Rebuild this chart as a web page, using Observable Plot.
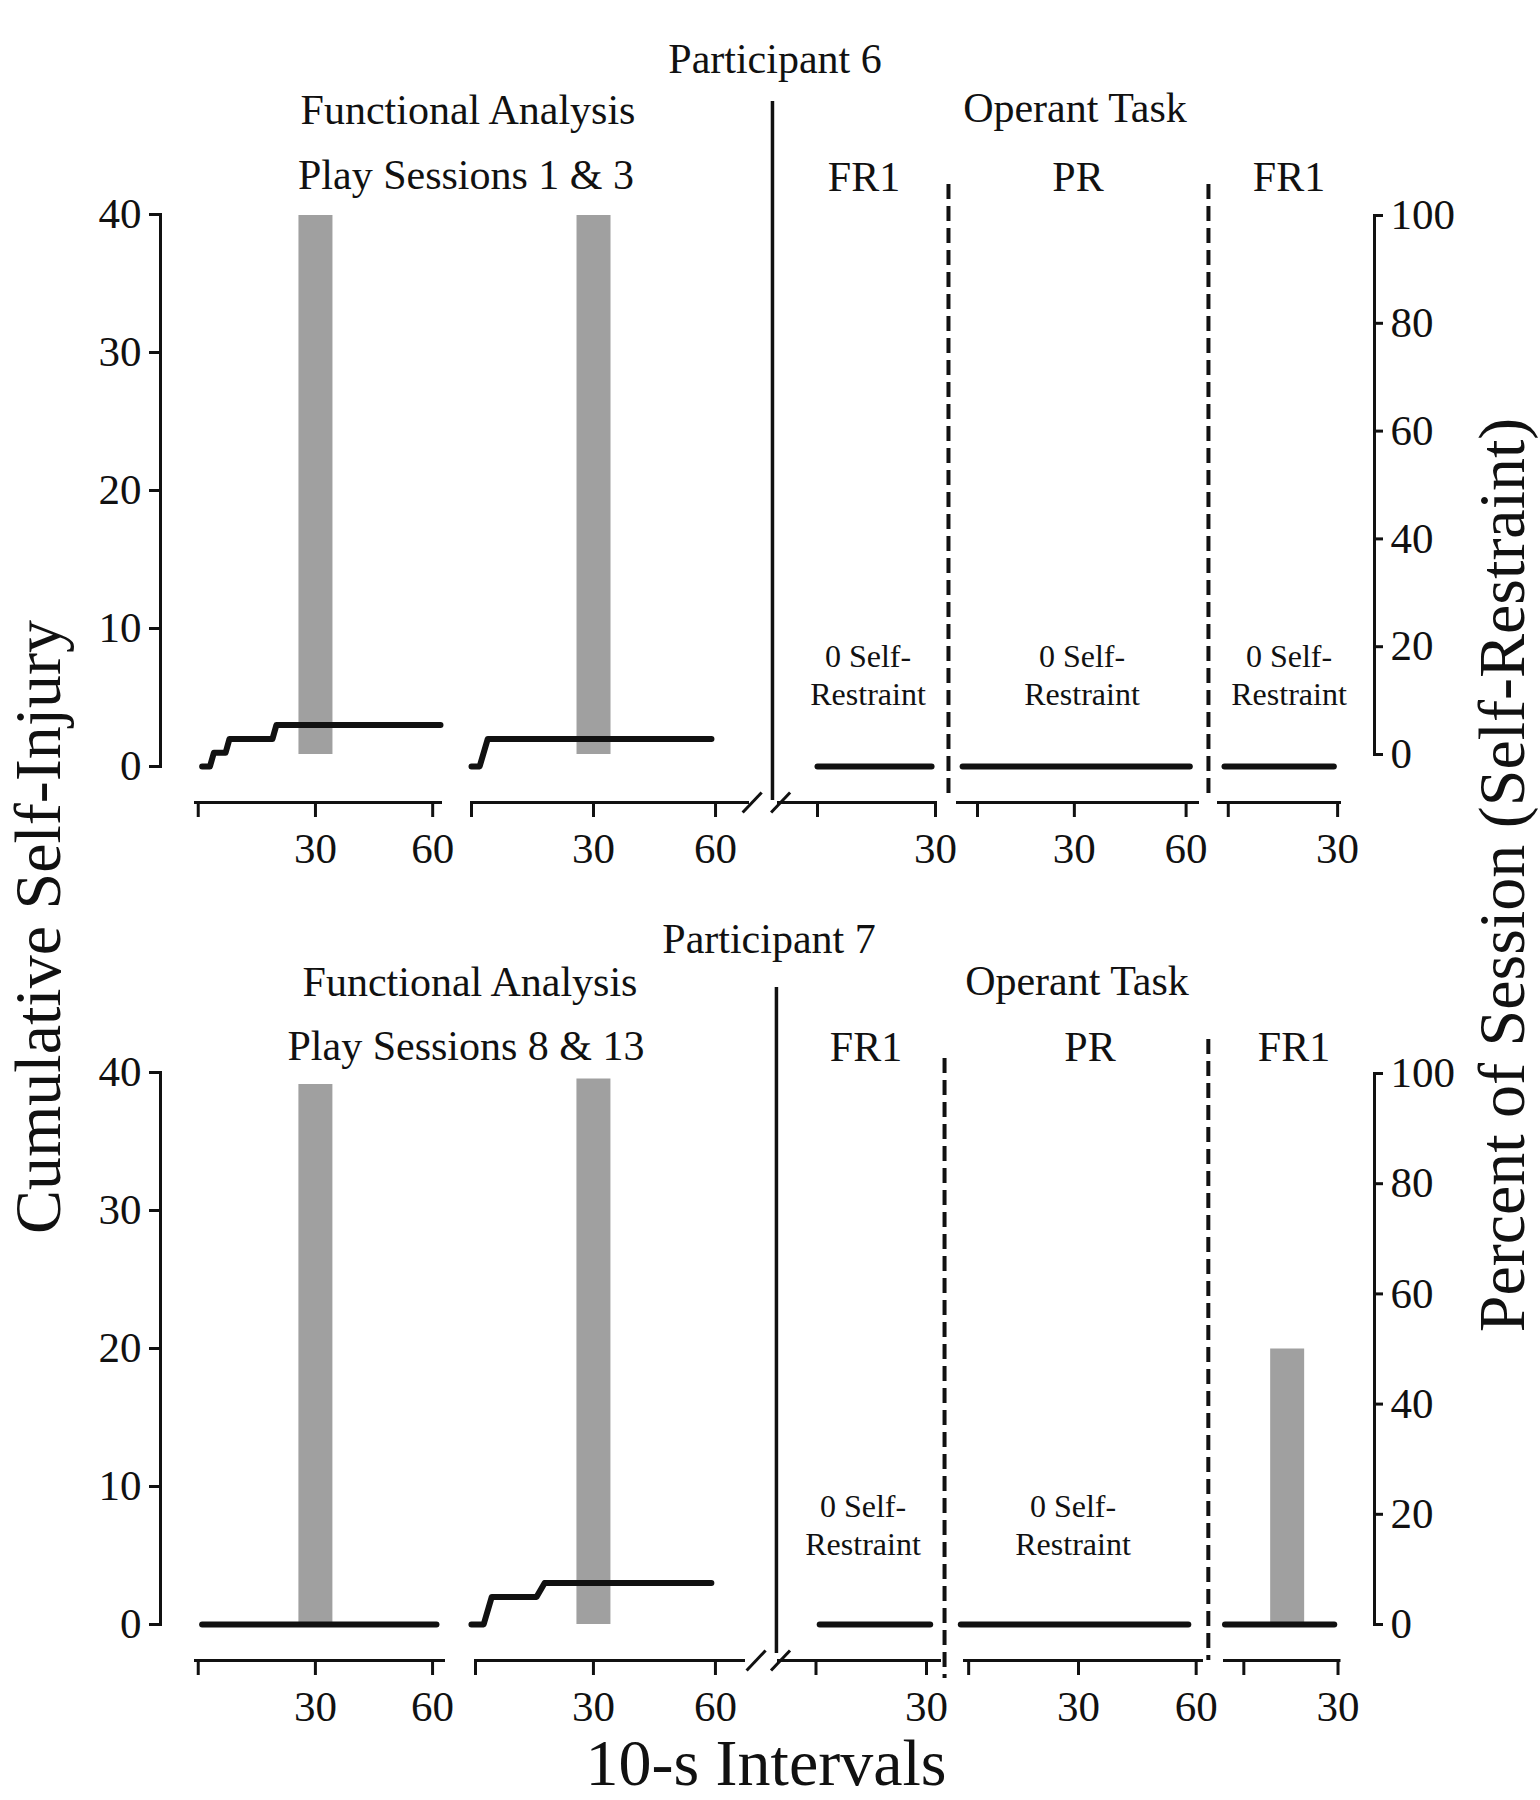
<!DOCTYPE html>
<html>
<head>
<meta charset="utf-8">
<script src="https://cdn.jsdelivr.net/npm/d3@7"></script>
<script src="https://cdn.jsdelivr.net/npm/@observablehq/plot@0.6"></script>
<style>
html, body { margin: 0; padding: 0; background: #fff; }
#chart { position: relative; width: 1540px; height: 1800px; overflow: hidden;
  font-family: "Liberation Serif", "Times New Roman", serif; color: #111; background: #fff; }
.lbl { position: absolute; transform: translate(-50%, -50%); white-space: nowrap; line-height: 1; text-align: center; }
.vlbl { position: absolute; transform: translate(-50%, -50%) rotate(-90deg); white-space: nowrap; line-height: 0.8; }
</style>
</head>
<body>
<div id="chart"></div>
<script>
// ================= DATA =================
const participantTitles = ["Participant 6", "Participant 7"];
const faTitle = "Functional Analysis";
const faSessionTitles = ["Play Sessions 1 & 3", "Play Sessions 8 & 13"];
const operantTitle = "Operant Task";
const phaseNames = ["FR1", "PR", "FR1"];
const zeroRestraintLabel = ["0 Self-", "Restraint"];
const yTitleLeft = "Cumulative Self-Injury";
const yTitleRight = "Percent of Session (Self-Restraint)";
const xTitle = "10-s Intervals";

// cumulative self-injury: [10-s interval, cumulative count] at each change point
const p6FA1  = [[1,0],[3,0],[4,1],[7,1],[8,2],[19,2],[20,3],[62,3]];
const p6FA2  = [[0,0],[2,0],[4,2],[59,2]];
const p6FR1a = [[0,0],[29,0]];
const p6PR   = [[0,0],[61,0]];
const p6FR1b = [[0,0],[29,0]];
const p7FA1  = [[1,0],[61,0]];
const p7FA2  = [[0,0],[3,0],[5,2],[16,2],[18,3],[59,3]];
const p7FR1a = [[1,0],[31,0]];
const p7PR   = [[0,0],[58,0]];
const p7FR1b = [[0,0],[29,0]];

// percent of session with self-restraint: [interval, percent]
const p6RestraintFA1  = [[30,100]];
const p6RestraintFA2  = [[30,100]];
const p7RestraintFA1  = [[30,98]];
const p7RestraintFA2  = [[30,99]];
const p7RestraintFR1b = [[16.5,50]];

// x ticks per segment (first tick is unlabeled)
const p6Ticks = {fa1:[0,30,60], fa2:[0,30,60], fr1a:[0,30], pr:[4,30,60], fr1b:[1,30]};
const p7Ticks = {fa1:[0,30,60], fa2:[1,30,60], fr1a:[0,30], pr:[2,30,60], fr1b:[5,30]};
const yTicksLeft  = [0,10,20,30,40];
const yTicksRight = [0,20,40,60,80,100];

// phase-change lines, FA/operant divider and axis breaks, in the interval units of their segment
const p6PhaseLines = {fr1a: 33.3, pr: 66.0};
const p7PhaseLines = {fr1a: 34.9, pr: 63.1};
const p6Divider = 74, p7Divider = 75;
const p6Breaks = [69, 76];
const p7Breaks = [70, 76];

// ================= LAYOUT =================
const H = 900, PAD = 60, FRAME_TOP = 184, AXIS_Y = 802;
const FONT = '"Liberation Serif", "Times New Roman", serif';
const INK = "#111";
const baseStyle = {fontFamily: FONT, fontSize: "43px", background: "transparent", overflow: "visible", color: INK};

const panels = [
  {
    top: 0,
    lines: {fa1: p6FA1, fa2: p6FA2, fr1a: p6FR1a, pr: p6PR, fr1b: p6FR1b},
    bars: {fa1: p6RestraintFA1, fa2: p6RestraintFA2},
    ticks: p6Ticks, phase: p6PhaseLines, divider: p6Divider, breaks: p6Breaks,
    segs: {
      fa1:  {a0: 195,  a1: 440,  domain: [-0.7, 62]},
      fa2:  {a0: 471,  a1: 747,  domain: [0, 67.86]},
      fr1a: {a0: 778,  a1: 935,  domain: [-9.92, 30]},
      pr:   {a0: 957,  a1: 1197, domain: [-1.37, 63.06]},
      fr1b: {a0: 1218, a1: 1339, domain: [-1.59, 30.5]}
    },
    rightMarginBottom: 146, rightRange: [754, 215],
    phaseInsets: {fr1a: [0, 5], pr: [0, 5]},
    dividerInsets: [-83, 2],
    texts: [
      [participantTitles[0], 775, 59], [faTitle, 468, 110], [faSessionTitles[0], 466, 175],
      [operantTitle, 1075, 108], [phaseNames[0], 864, 177], [phaseNames[1], 1078, 177], [phaseNames[2], 1289, 177]
    ],
    zeroLabels: [[868, 675], [1082, 675], [1289, 675]]
  },
  {
    top: 858,
    lines: {fa1: p7FA1, fa2: p7FA2, fr1a: p7FR1a, pr: p7PR, fr1b: p7FR1b},
    bars: {fa1: p7RestraintFA1, fa2: p7RestraintFA2, fr1b: p7RestraintFR1b},
    ticks: p7Ticks, phase: p7PhaseLines, divider: p7Divider, breaks: p7Breaks,
    segs: {
      fa1:  {a0: 195,    a1: 443,  domain: [-0.7, 62.8]},
      fa2:  {a0: 475,    a1: 743,  domain: [1, 66.9]},
      fr1a: {a0: 778,    a1: 939,  domain: [-10.18, 33.53]},
      pr:   {a0: 964,    a1: 1201, domain: [0.94, 61.36]},
      fr1b: {a0: 1223.5, a1: 1338, domain: [-0.13, 30.26]}
    },
    rightMarginBottom: 134, rightRange: [766, 215],
    phaseInsets: {fr1a: [16, -18], pr: [-3, 0]},
    dividerInsets: [-55, 7],
    texts: [
      [participantTitles[1], 769, 939], [faTitle, 470, 982], [faSessionTitles[1], 466, 1046],
      [operantTitle, 1077, 981], [phaseNames[0], 866, 1047], [phaseNames[1], 1090, 1047], [phaseNames[2], 1294, 1047]
    ],
    zeroLabels: [[863, 1525], [1073, 1525]]
  }
];

// ================= RENDER =================
const chart = document.getElementById("chart");

function place(svg, left, top) {
  svg.style.position = "absolute";
  svg.style.left = left + "px";
  svg.style.top = top + "px";
  svg.style.maxWidth = "none";
  chart.appendChild(svg);
}
function addText(txt, x, y, size, vertical) {
  const d = document.createElement("div");
  d.className = vertical ? "vlbl" : "lbl";
  d.style.left = x + "px";
  d.style.top = y + "px";
  d.style.fontSize = size + "px";
  d.textContent = txt;
  chart.appendChild(d);
  return d;
}

const slash = {
  draw(ctx, size) {
    const r = Math.sqrt(size / Math.PI);
    ctx.moveTo(-r * 0.95, r);
    ctx.lineTo(r * 0.95, -r);
  }
};

for (const p of panels) {
  // left axis (cumulative self-injury)
  place(Plot.plot({
    width: 170, height: H, marginLeft: 160, marginRight: 10, marginTop: 214, marginBottom: 134,
    y: {domain: [0, 40]},
    style: baseStyle,
    marks: [
      Plot.frame({anchor: "left", strokeWidth: 3}),
      Plot.axisY({ticks: yTicksLeft, tickSize: 11, tickPadding: 8, strokeWidth: 3})
    ]
  }), 0, p.top);

  // right axis (percent of session)
  place(Plot.plot({
    width: 180, height: H, marginLeft: 0, marginRight: 166, marginTop: 215, marginBottom: p.rightMarginBottom,
    y: {domain: [0, 100]},
    style: baseStyle,
    marks: [
      Plot.frame({anchor: "right", strokeWidth: 3}),
      Plot.axisY({anchor: "right", ticks: yTicksRight, tickSize: 8, tickPadding: 8, strokeWidth: 3})
    ]
  }), 1360, p.top);

  for (const k of ["fa1", "fa2", "fr1a", "pr", "fr1b"]) {
    const s = p.segs[k];
    const w = s.a1 - s.a0 + 2 * PAD;
    const dims = {width: w, height: H, marginLeft: PAD, marginRight: PAD, marginTop: FRAME_TOP, marginBottom: H - AXIS_Y};
    const bars = p.bars[k] || [];
    if (bars.length) {
      place(Plot.plot({
        ...dims,
        x: {domain: s.domain, axis: null},
        y: {domain: [0, 100], range: p.rightRange, axis: null},
        style: baseStyle,
        marks: [
          Plot.ruleX(bars, {x: d => d[0], y1: 0, y2: d => d[1], stroke: "#a0a0a0", strokeWidth: 34})
        ]
      }), s.a0 - PAD, p.top);
    }
    const ticks = p.ticks[k];
    const marks = [
      Plot.frame({anchor: "bottom", strokeWidth: 3}),
      Plot.axisX({ticks, tickFormat: d => (d === ticks[0] ? "" : String(d)), tickSize: 15, tickPadding: 15, strokeWidth: 3}),
      Plot.line(p.lines[k], {x: d => d[0], y: d => d[1], stroke: INK, strokeWidth: 6, strokeLinecap: "round", strokeLinejoin: "round"})
    ];
    if (p.phase[k] != null) {
      marks.push(Plot.ruleX([p.phase[k]], {stroke: INK, strokeWidth: 4, strokeDasharray: "15,7",
        insetTop: p.phaseInsets[k][0], insetBottom: p.phaseInsets[k][1]}));
    }
    if (k === "fa2") {
      marks.push(Plot.ruleX([p.divider], {stroke: INK, strokeWidth: 3.5, insetTop: p.dividerInsets[0], insetBottom: p.dividerInsets[1]}));
      marks.push(Plot.dot(p.breaks, {x: d => d, frameAnchor: "bottom", symbol: slash, r: 10, stroke: INK, strokeWidth: 3, fill: "none"}));
    }
    place(Plot.plot({
      ...dims,
      x: {domain: s.domain},
      y: {domain: [0, 40], range: [766, 214], axis: null},
      style: baseStyle,
      marks
    }), s.a0 - PAD, p.top);
  }

  for (const [t, x, y] of p.texts) addText(t, x, y, 42);
  for (const [x, y] of p.zeroLabels) {
    const d = addText("", x, y, 32);
    d.style.lineHeight = "38px";
    d.innerHTML = zeroRestraintLabel.join("<br>");
  }
}

// axis titles (kept fully inside the page)
addText(yTitleLeft, 38, 927, 66, true);
addText(yTitleRight, 1502, 875, 66, true);
const xt = addText(xTitle, 766, 1763, 66);
xt.style.lineHeight = "0.8";
</script>
</body>
</html>
